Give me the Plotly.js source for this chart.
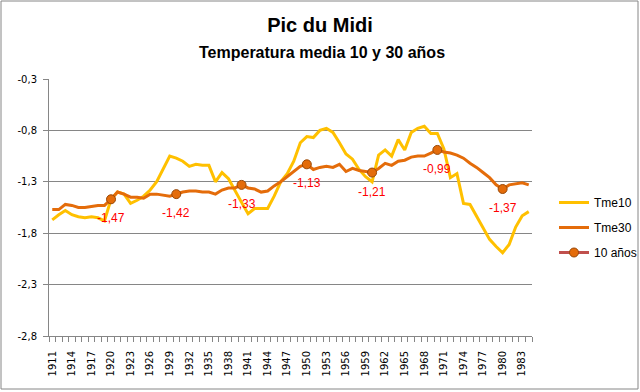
<!DOCTYPE html>
<html>
<head>
<meta charset="utf-8">
<script src="https://cdn.plot.ly/plotly-3.0.1.min.js"></script>
<style>
html,body{margin:0;padding:0;background:#fff;}
#chart{width:640px;height:392px;}
</style>
</head>
<body>
<div id="chart"></div>
<script>
// ---- data ----
const years = [];
for (let y = 1911; y <= 1984; y++) years.push(y);

const tme10 = [
 -1.67,-1.62,-1.58,-1.62,-1.64,-1.65,-1.64,-1.65,-1.68,-1.47,
 -1.40,-1.42,-1.51,-1.48,-1.44,-1.38,-1.30,-1.17,-1.05,-1.07,
 -1.10,-1.15,-1.13,-1.14,-1.14,-1.30,-1.21,-1.27,-1.39,-1.50,
 -1.61,-1.56,-1.56,-1.56,-1.44,-1.30,-1.22,-1.10,-0.92,-0.86,
 -0.87,-0.80,-0.78,-0.82,-0.92,-1.03,-1.08,-1.18,-1.25,-1.30,
 -1.04,-0.99,-1.05,-0.89,-0.99,-0.82,-0.78,-0.76,-0.83,-0.83,
 -0.98,-1.26,-1.22,-1.51,-1.52,-1.63,-1.75,-1.86,-1.93,-1.99,
 -1.91,-1.74,-1.63,-1.59
];

const tme30 = [
 -1.57,-1.57,-1.52,-1.53,-1.55,-1.55,-1.54,-1.53,-1.53,-1.47,
 -1.40,-1.42,-1.45,-1.45,-1.46,-1.42,-1.42,-1.43,-1.44,-1.42,
 -1.40,-1.39,-1.39,-1.40,-1.40,-1.42,-1.38,-1.36,-1.36,-1.33,
 -1.36,-1.37,-1.40,-1.39,-1.34,-1.30,-1.25,-1.20,-1.15,-1.13,
 -1.18,-1.16,-1.15,-1.16,-1.13,-1.20,-1.17,-1.19,-1.20,-1.21,
 -1.17,-1.12,-1.14,-1.10,-1.09,-1.06,-1.05,-1.05,-1.02,-0.99,
 -1.01,-1.02,-1.04,-1.07,-1.12,-1.16,-1.21,-1.26,-1.33,-1.37,
 -1.33,-1.32,-1.31,-1.33
];

const decadeYears = [1920, 1930, 1940, 1950, 1960, 1970, 1980];
const decadeValues = [-1.47, -1.42, -1.33, -1.13, -1.21, -0.99, -1.37];

const yTickVals = [-2.8, -2.3, -1.8, -1.3, -0.8, -0.3];
const xTickVals = [];
for (let y = 1911; y <= 1983; y += 3) xTickVals.push(y);

// ---- build ----
const fmt = v => v.toFixed(2).replace('.', ',');
const decY = years.map(y => { const i = decadeYears.indexOf(y); return i >= 0 ? decadeValues[i] : null; });

const traces = [
  {x: years, y: tme10, name: 'Tme10', type: 'scatter', mode: 'lines',
   line: {color: '#FFC000', width: 3}, legendgroup: 'a'},
  {x: years, y: tme30, name: 'Tme30', type: 'scatter', mode: 'lines',
   line: {color: '#E46C0A', width: 3}, legendgroup: 'b'},
  {x: years, y: decY, name: '10 años', type: 'scatter', mode: 'lines+markers',
   connectgaps: false,
   line: {color: '#C0504D', width: 3},
   marker: {size: 9, color: '#E46C0A', line: {color: '#984807', width: 1}},
   legendgroup: 'c'}
];

const L = 49, R = 108, T = 79, B = 56;
const pw = 640 - L - R, ph = 392 - T - B;

const dataLabels = decadeYears.map((yr, i) => ({
  x: yr, y: decadeValues[i], xref: 'x', yref: 'y', text: fmt(decadeValues[i]),
  showarrow: false, yshift: -19, xanchor: 'center', yanchor: 'middle',
  font: {family: 'Liberation Sans, Arial, sans-serif', size: 12, color: '#FF0000'}
}));

const layout = {
  width: 640, height: 392,
  margin: {l: L, r: R, t: T, b: B, pad: 0, autoexpand: false},
  paper_bgcolor: '#ffffff', plot_bgcolor: '#ffffff',
  font: {family: 'Liberation Sans, Arial, sans-serif', color: '#000'},
  title: {text: 'Pic du Midi', x: 0.5, xanchor: 'center', xref: 'container',
          y: 1 - 25/392, yref: 'container', yanchor: 'middle',
          font: {family: 'Liberation Sans, Arial, sans-serif', size: 20, weight: 'bold', color: '#000'}},
  annotations: [{text: 'Temperatura media 10 y 30 años', xref: 'paper', yref: 'paper',
    x: (322 - L)/pw, y: 1 + (T - 53)/ph, xanchor: 'center', yanchor: 'middle',
    showarrow: false,
    font: {family: 'Liberation Sans, Arial, sans-serif', size: 16, weight: 'bold', color: '#000'}}
  ].concat(dataLabels),
  xaxis: {
    range: [1910.5, 1984.5], tickmode: 'array', tickvals: xTickVals,
    ticktext: xTickVals.map(String), tickangle: -90, ticks: '',
    ticklabelstandoff: 10,
    tickfont: {family: 'DejaVu Sans, Verdana, sans-serif', size: 10, color: '#000'},
    minor: {tickmode: 'linear', tick0: 1910.5, dtick: 1, ticks: 'outside', ticklen: 5,
            tickcolor: '#868686', tickwidth: 1, showgrid: false},
    showgrid: false, zeroline: false, showline: true, linecolor: '#868686', linewidth: 1,
    fixedrange: true, automargin: false
  },
  yaxis: {
    range: [-2.8, -0.3], tickmode: 'array', tickvals: yTickVals,
    ticktext: yTickVals.map(v => v.toFixed(1).replace('.', ',')),
    ticks: 'outside', ticklen: 5, tickcolor: '#868686', tickwidth: 1,
    ticklabelstandoff: 4,
    tickfont: {family: 'DejaVu Sans, Verdana, sans-serif', size: 10, color: '#000'},
    showgrid: true, gridcolor: '#868686', gridwidth: 1,
    zeroline: false, showline: true, linecolor: '#868686', linewidth: 1,
    fixedrange: true, automargin: false
  },
  showlegend: true,
  legend: {x: (554 - L)/pw, xanchor: 'left', y: (336 - 227.5)/ph, yanchor: 'middle',
           font: {family: 'Liberation Sans, Arial, sans-serif', size: 12, color: '#000'},
           tracegroupgap: 6, bgcolor: 'rgba(0,0,0,0)', borderwidth: 0},
  shapes: [{type: 'rect', xref: 'paper', yref: 'paper',
    x0: (1 - L)/pw, x1: (638 - L)/pw, y0: -(389 - 336)/ph, y1: 1 + (T - 1)/ph,
    line: {color: '#868686', width: 1}, fillcolor: 'rgba(0,0,0,0)', layer: 'below'}]
};

Plotly.newPlot('chart', traces, layout, {displayModeBar: false, staticPlot: true});
</script>
</body>
</html>
